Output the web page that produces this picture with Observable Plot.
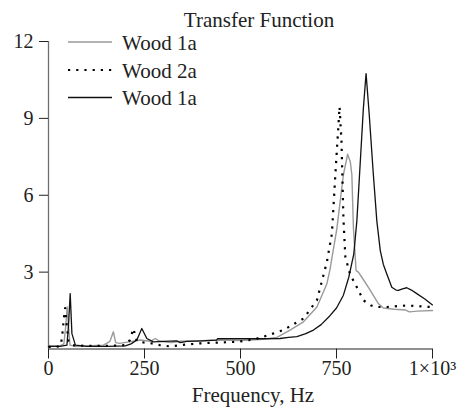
<!DOCTYPE html>
<html>
<head>
<meta charset="utf-8">
<script src="https://cdn.jsdelivr.net/npm/d3@7"></script>
<script src="https://cdn.jsdelivr.net/npm/@observablehq/plot@0.6"></script>
<style>
  body { margin: 0; background: #fff; }
  #wrap { position: relative; width: 469px; height: 411px; font-family: "Liberation Serif", "DejaVu Serif", serif; }
  #overlay { position: absolute; left: 0; top: 0; pointer-events: none; }
  #overlay text { font-family: "Liberation Serif", "DejaVu Serif", serif; fill: #222; }
  svg text { font-family: "Liberation Serif", "DejaVu Serif", serif !important; }
</style>
</head>
<body>
<div id="wrap"></div>
<script>
// ---- data ----
const title = "Transfer Function";
const xLabel = "Frequency, Hz";
const seriesNames = ["Wood 1a", "Wood 2a", "Wood 1a"];
const xTicks = [0, 250, 500, 750, 1000];
const yTicks = [3, 6, 9, 12];

// Wood 1a (grey solid)
const grayFreq = [0, 30, 40, 45, 48.6, 52, 56, 70, 100, 143, 160, 169, 175, 185, 210, 239, 265, 278, 290, 320, 343, 400, 438, 500, 560, 595, 629, 664, 699, 725, 733, 751, 768, 779, 786, 790, 794, 801, 807, 816, 838, 859, 872, 900, 930, 940, 960, 1000];
const grayVal  = [0.12, 0.12, 0.2, 0.9, 1.64, 0.9, 0.15, 0.1, 0.12, 0.15, 0.3, 0.67, 0.25, 0.22, 0.28, 0.35, 0.3, 0.41, 0.3, 0.25, 0.3, 0.32, 0.35, 0.33, 0.38, 0.45, 0.74, 1.06, 1.64, 2.55, 3.1, 4.7, 6.8, 7.6, 7.3, 6.8, 4.74, 3.06, 3.0, 2.8, 2.29, 1.77, 1.6, 1.55, 1.52, 1.45, 1.48, 1.5];

// Wood 2a (black dotted)
const dotFreq = [0, 30, 35, 40, 43.5, 47, 52, 60, 100, 150, 200, 212, 221, 230, 250, 269, 290, 317, 343, 395, 438, 490, 534, 560, 612, 664, 699, 725, 738, 747, 758, 763, 768, 773, 785, 803, 820, 840, 855, 881, 933, 994, 1000];
const dotVal  = [0.08, 0.1, 0.4, 1.2, 1.6, 1.0, 0.3, 0.15, 0.12, 0.12, 0.15, 0.35, 0.8, 0.3, 0.25, 0.22, 0.15, 0.1, 0.15, 0.22, 0.25, 0.28, 0.37, 0.48, 0.74, 1.19, 1.9, 3.4, 4.5, 6.8, 9.45, 8.1, 5.1, 3.6, 2.93, 2.41, 1.9, 1.7, 1.64, 1.64, 1.7, 1.64, 1.64];

// Wood 1a (black solid)
const blackFreq = [0, 30, 48, 52, 56.5, 61, 70, 100, 150, 200, 215, 230, 243, 256, 273, 300, 334, 343, 360, 400, 438, 440, 500, 550, 603, 625, 647, 670, 690, 710, 733, 750, 768, 782, 795, 803, 810, 820, 827, 835, 846, 855, 864, 872, 881, 894, 905, 911, 922, 933, 945, 959, 980, 1000];
const blackVal  = [0.1, 0.1, 0.15, 0.9, 2.16, 0.6, 0.15, 0.1, 0.1, 0.12, 0.2, 0.35, 0.8, 0.41, 0.28, 0.3, 0.32, 0.25, 0.3, 0.32, 0.35, 0.4, 0.4, 0.4, 0.41, 0.45, 0.48, 0.6, 0.74, 0.95, 1.3, 1.6, 2.1, 2.8, 3.7, 5.0, 6.8, 9.4, 10.75, 9.2, 6.8, 5.0, 3.84, 3.3, 2.93, 2.41, 2.3, 2.29, 2.35, 2.39, 2.3, 2.16, 1.95, 1.72];

// ---- build tables ----
const toRows = (fs, vs) => fs.map((f, i) => ({f, v: vs[i]}));
const gray = toRows(grayFreq, grayVal);
const dotted = toRows(dotFreq, dotVal);
const black = toRows(blackFreq, blackVal);

const font = '"Liberation Serif", "DejaVu Serif", serif';

const chart = Plot.plot({
  width: 469,
  height: 411,
  marginLeft: 48,
  marginRight: 37,
  marginTop: 41,
  marginBottom: 62.5,
  style: { fontFamily: font, fontSize: "20px", color: "#222", background: "#fff" },
  x: { domain: [0, 1000] },
  y: { domain: [0, 12] },
  marks: [
    Plot.ruleX([0], { y1: 0, y2: 12, stroke: "#6e6e6e", strokeWidth: 1.3 }),
    Plot.ruleY([0], { stroke: "#222", strokeWidth: 1.2 }),
    Plot.axisY({ ticks: yTicks, tickSize: 9, tickPadding: 6, fontSize: 20, label: null, stroke: "#222" }),
    Plot.axisX({ ticks: xTicks, tickSize: 10, tickPadding: 2, fontSize: 20, label: null, stroke: "#222",
      tickFormat: d => d === 1000 ? "1×10³" : String(d) }),
    Plot.line(gray, { x: "f", y: "v", stroke: "#9a9a9a", strokeWidth: 1.4 }),
    Plot.line(black, { x: "f", y: "v", stroke: "#111", strokeWidth: 1.3 }),
    Plot.line(dotted, { x: "f", y: "v", stroke: "#000", strokeWidth: 2.2, strokeDasharray: "2.2,6", strokeLinecap: "butt" })
  ]
});

const wrap = document.getElementById("wrap");
wrap.appendChild(chart);

// ---- overlay: title, x label, legend ----
const ns = "http://www.w3.org/2000/svg";
const ov = document.createElementNS(ns, "svg");
ov.setAttribute("id", "overlay");
ov.setAttribute("width", 469);
ov.setAttribute("height", 411);
wrap.appendChild(ov);

function addText(str, x, y, size, anchor) {
  const t = document.createElementNS(ns, "text");
  t.setAttribute("x", x); t.setAttribute("y", y);
  t.setAttribute("font-size", size);
  t.setAttribute("text-anchor", anchor);
  t.textContent = str;
  ov.appendChild(t);
}
function addLine(y, stroke, width, dash) {
  const l = document.createElementNS(ns, "line");
  l.setAttribute("x1", 68); l.setAttribute("x2", 112);
  l.setAttribute("y1", y); l.setAttribute("y2", y);
  l.setAttribute("stroke", stroke);
  l.setAttribute("stroke-width", width);
  if (dash) l.setAttribute("stroke-dasharray", dash);
  ov.appendChild(l);
}

addText(title, 259, 26.5, 21, "middle");
addText(xLabel, 253, 402, 21, "middle");

const legendStyles = [
  { stroke: "#9a9a9a", width: 1.5, dash: null },
  { stroke: "#000", width: 2.2, dash: "2.2,6" },
  { stroke: "#111", width: 1.5, dash: null }
];
const legendY = [42, 70, 97.5];
seriesNames.forEach((name, i) => {
  addLine(legendY[i], legendStyles[i].stroke, legendStyles[i].width, legendStyles[i].dash);
  addText(name, 122, legendY[i] + 7.5, 21, "start");
});
</script>
</body>
</html>
